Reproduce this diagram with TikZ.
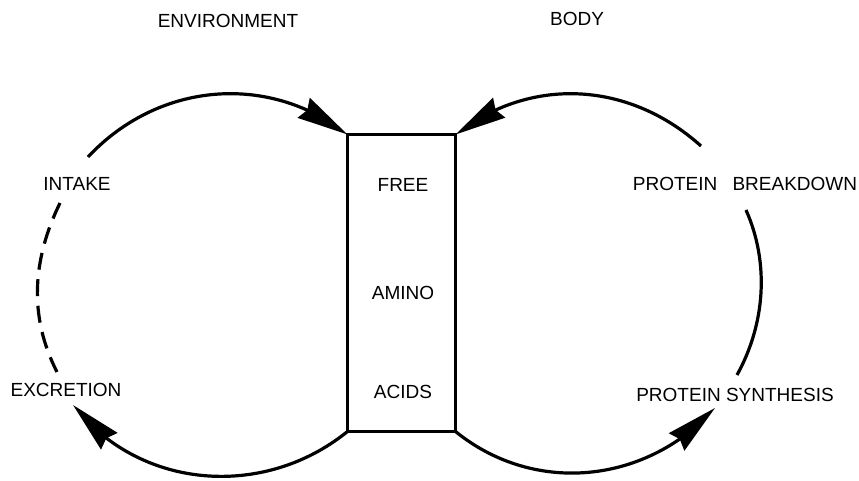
\documentclass[tikz,border=0pt]{standalone}
\usepackage{fontspec}
\setmainfont{Liberation Sans}
\usetikzlibrary{arrows.meta,bending}
\begin{document}
\begin{tikzpicture}[x=1pt,y=1pt,
  lab/.style={inner sep=0pt, font=\fontsize{19}{22}\selectfont},
  loop/.style={line width=3.2pt},
  head/.style={-{Stealth[length=51pt,width=23pt,inset=4pt,flex]}},
  pool/.style={draw, line width=2.8pt, minimum width=108pt,
    minimum height=297pt, inner sep=0pt, outer sep=0pt}]
\useasboundingbox (0,0) rectangle (859,481);

% headings
\node[lab] (env)  at (228,460) {ENVIRONMENT};
\node[lab] (body) at (577,462) {BODY};

% central pool of free amino acids
\node[pool] (pool) at (401.5,198) {};
\node[lab] (free)  at (403,296) {FREE};
\node[lab] (amino) at (403,188) {AMINO};
\node[lab] (acids) at (403,89)  {ACIDS};

% side labels
\node[lab] (intake)    at (77,297) {INTAKE};
\node[lab] (excretion) at (66,91)  {EXCRETION};
\node[lab] (breakdown) at (745,297) {PROTEIN\hspace{0.8em}BREAKDOWN};
\node[lab] (synthesis) at (735,86)  {PROTEIN SYNTHESIS};

% loose ends of the loops
\coordinate (inTop)   at (88,324);
\coordinate (inDash)  at (60,278);
\coordinate (exDash)  at (57,109);
\coordinate (exTip)   at (73,76);
\coordinate (bdTop)   at (701,335);
\coordinate (bdLine)  at (746,271);
\coordinate (syLine)  at (737,106);
\coordinate (syTip)   at (715,73);

% environment loop
\draw[loop,head] (inTop) to[out=47,in=142] (pool.north west);
\draw[loop,dash pattern=on 17pt off 9.6pt] (inDash) to[out=244,in=117,looseness=0.95] (exDash);
\draw[loop,head] (pool.south west) to[out=-141,in=-52] (exTip);

% body loop
\draw[loop,head] (bdTop) to[out=138,in=38] (pool.north east);
\draw[loop] (bdLine) to[out=-66,in=61,looseness=0.9] (syLine);
\draw[loop,head] (pool.south east) to[out=-39,in=228] (syTip);
\end{tikzpicture}
\end{document}
